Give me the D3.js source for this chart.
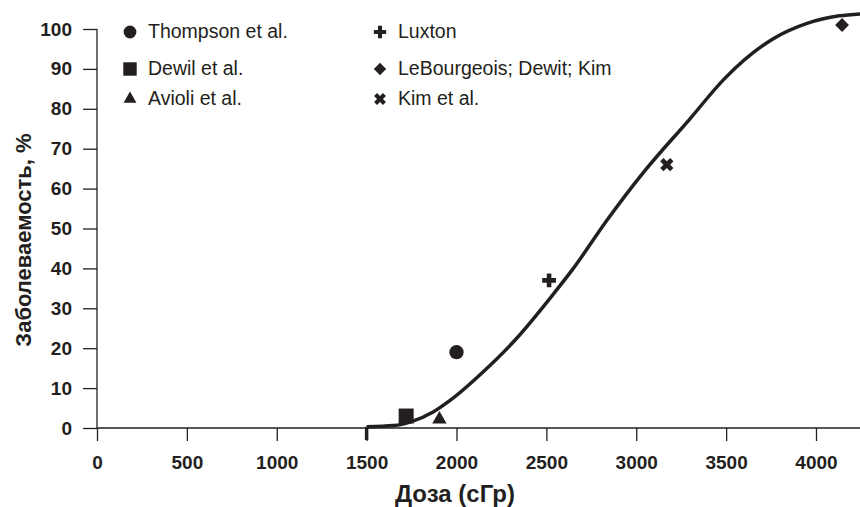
<!DOCTYPE html>
<html>
<head>
<meta charset="utf-8">
<script src="https://cdn.jsdelivr.net/npm/d3@7"></script>
<style>
  html, body { margin: 0; padding: 0; background: #fff; }
  svg { display: block; font-family: "Liberation Sans", Arial, sans-serif; }
  .tick text { font-size: 19px; font-weight: bold; fill: #231f20; }
  .tick line { stroke: #231f20; stroke-width: 1.3; }
</style>
</head>
<body>
<svg></svg>
<script>
// chart values
const studies = ['Thompson et al.', 'Dewil et al.', 'Avioli et al.', 'Luxton', 'LeBourgeois; Dewit; Kim', 'Kim et al.'];
const studyDose = [2000, 1720, 1905, 2515, 4145, 3170];
const studyRate = [19, 3, 2.2, 37, 101, 66];
const studyShape = ['circle', 'square', 'triangle', 'plus', 'diamond', 'cross'];

// fitted dose-response curve
const curveDose = [1500, 1650, 1750, 1870, 1964, 2149, 2335, 2520, 2650, 2836, 3039, 3299, 3490, 3760, 3950, 4130, 4250];
const curveRate = [0.3, 0.6, 1.6, 4, 6.9, 14.1, 22.5, 32.5, 40, 52, 64, 77.5, 87.5, 97.5, 101.4, 103.3, 103.8];

const xTicks = [0, 500, 1000, 1500, 2000, 2500, 3000, 3500, 4000];
const yTicks = [0, 10, 20, 30, 40, 50, 60, 70, 80, 90, 100];

const xTitle = 'Доза (сГр)';
const yTitle = 'Заболеваемость, %';

const width = 860;
const height = 507;
const ink = '#231f20';

const svg = d3.select('svg')
  .attr('width', width)
  .attr('height', height);

const x = d3.scaleLinear().domain([0, 4000]).range([97, 816]);
const y = d3.scaleLinear().domain([0, 100]).range([428, 29]);

// x axis: line runs to the right edge, ticks hang below
const xAxis = svg.append('g')
  .attr('transform', `translate(0,${y(0)})`)
  .call(d3.axisBottom(x).tickValues(xTicks).tickSize(13).tickPadding(15).tickFormat(d3.format('d')));
xAxis.select('.domain').remove();
svg.append('line')
  .attr('x1', x(0)).attr('x2', width)
  .attr('y1', y(0)).attr('y2', y(0))
  .attr('stroke', ink).attr('stroke-width', 1.3);

// y axis
const yAxis = svg.append('g')
  .attr('transform', `translate(${x(0)},0)`)
  .call(d3.axisLeft(y).tickValues(yTicks).tickSize(14).tickPadding(11));
yAxis.select('.domain')
  .attr('d', `M0,${y(0)}V${y(100)}`)
  .attr('stroke', ink).attr('stroke-width', 1.3);

// axis titles
svg.append('text')
  .attr('x', 455).attr('y', 502)
  .attr('text-anchor', 'middle')
  .attr('font-size', 24).attr('font-weight', 'bold').attr('fill', ink)
  .text(xTitle);

svg.append('text')
  .attr('transform', 'translate(31,240) rotate(-90)')
  .attr('text-anchor', 'middle')
  .attr('font-size', 22).attr('font-weight', 'bold').attr('fill', ink)
  .text(yTitle);

// fitted curve, with the short drop at its start
const line = d3.line()
  .x((d) => x(d[0]))
  .y((d) => y(d[1]))
  .curve(d3.curveMonotoneX);
const curvePoints = curveDose.map((d, i) => [d, curveRate[i]]);

const plot = svg.append('g');
plot.append('path')
  .attr('d', `M${x(curveDose[0])},${y(-3)}L${x(curveDose[0])},${y(curveRate[0])}`)
  .attr('fill', 'none').attr('stroke', ink).attr('stroke-width', 3.5);
plot.append('path')
  .attr('d', line(curvePoints))
  .attr('fill', 'none').attr('stroke', ink).attr('stroke-width', 3.5);

/**
 * Builds a marker path for a study shape
 * @param {string} shape Shape name
 * @param {number} k Scale factor
 */
function markerPath(shape, k) {
  const sizes = {
    circle: [d3.symbolCircle, 160],
    square: [d3.symbolSquare, 225],
    triangle: [d3.symbolTriangle, 90],
    plus: [d3.symbolCross, 105],
    diamond: [d3.symbolSquare, 95],
    cross: [d3.symbolCross, 110]
  };
  const s = sizes[shape];
  return d3.symbol().type(s[0]).size(s[1] * k)();
}

function markerRotation(shape) {
  return (shape === 'diamond' || shape === 'cross') ? 45 : 0;
}

plot.selectAll('path.marker')
  .data(studies)
  .enter()
  .append('path')
  .attr('class', 'marker')
  .attr('d', (d, i) => markerPath(studyShape[i], 1))
  .attr('transform', (d, i) => `translate(${x(studyDose[i])},${y(studyRate[i])}) rotate(${markerRotation(studyShape[i])})`)
  .attr('fill', ink);

// legend in two columns
const legendCols = [130, 380];
const legendRows = [32, 69, 99];
const legend = svg.append('g');
studies.forEach((name, i) => {
  const cx = legendCols[Math.floor(i / 3)];
  const cy = legendRows[i % 3];
  legend.append('path')
    .attr('d', markerPath(studyShape[i], 0.8))
    .attr('transform', `translate(${cx},${cy}) rotate(${markerRotation(studyShape[i])})`)
    .attr('fill', ink);
  legend.append('text')
    .attr('x', cx + 18)
    .attr('y', cy + 6)
    .attr('font-size', 19.5)
    .attr('fill', ink)
    .text(name);
});
</script>
</body>
</html>
